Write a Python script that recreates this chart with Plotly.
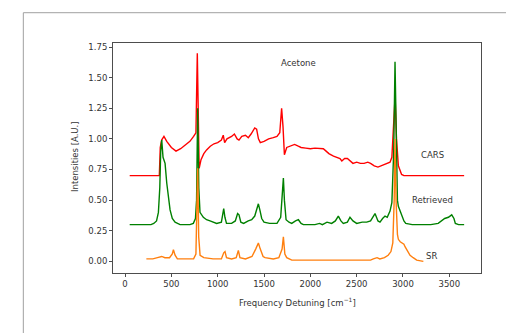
import plotly.graph_objects as go

# ---- data ----
cars_x = [50, 370, 380, 395, 420, 450, 500, 550, 600, 650, 700, 740, 765, 780, 790, 800, 820, 850, 880, 920,
          960, 1000, 1040, 1060, 1075, 1100, 1150, 1180, 1210, 1230, 1260, 1300, 1330, 1360, 1400, 1420, 1440,
          1460, 1500, 1550, 1600, 1640, 1670, 1690, 1705, 1720, 1745, 1780, 1830, 1870, 1900, 1950, 2000, 2050,
          2100, 2140, 2170, 2200, 2250, 2290, 2320, 2340, 2370, 2400, 2430, 2460, 2500, 2540, 2580, 2620, 2650,
          2690, 2730, 2760, 2790, 2830, 2860, 2880, 2900, 2915, 2930, 2950, 2985, 3010, 3660]
cars_y = [0.70, 0.70, 0.93, 0.99, 1.02, 0.98, 0.93, 0.90, 0.92, 0.95, 0.98, 1.02, 1.05, 1.70, 1.20, 0.76, 0.83,
          0.88, 0.91, 0.94, 0.96, 0.97, 0.99, 1.03, 0.97, 1.00, 1.02, 1.04, 1.00, 0.99, 1.02, 1.03, 1.01, 1.04,
          1.09, 1.08, 1.00, 0.97, 0.98, 1.00, 1.01, 1.02, 1.05, 1.25, 1.10, 0.87, 0.93, 0.94, 0.955, 0.94, 0.93,
          0.925, 0.92, 0.925, 0.92, 0.92, 0.90, 0.88, 0.86, 0.85, 0.84, 0.82, 0.84, 0.84, 0.82, 0.80, 0.81, 0.80,
          0.80, 0.81, 0.80, 0.78, 0.77, 0.78, 0.79, 0.80, 0.81, 0.85, 1.10, 1.35, 1.00, 0.78, 0.71, 0.70, 0.70]

ret_x = [50, 280, 310, 340, 360, 375, 385, 396, 410, 432, 450, 470, 486, 510, 540, 594, 650, 700, 737, 760, 772,
         784, 796, 809, 845, 880, 917, 989, 1040, 1055, 1065, 1078, 1095, 1150, 1190, 1215, 1230, 1250, 1280, 1330,
         1367, 1400, 1425, 1439, 1455, 1475, 1500, 1560, 1600, 1640, 1680, 1700, 1709, 1720, 1738, 1770, 1799,
         1840, 1871, 1900, 1925, 2000, 2050, 2100, 2130, 2180, 2230, 2270, 2302, 2330, 2356, 2400, 2428, 2460,
         2500, 2560, 2608, 2650, 2698, 2730, 2752, 2780, 2806, 2830, 2860, 2880, 2900, 2914, 2925, 2940, 2950,
         2970, 2986, 3010, 3030, 3100, 3200, 3300, 3380, 3420, 3450, 3490, 3526, 3550, 3565, 3600, 3660]
ret_y = [0.30, 0.30, 0.31, 0.33, 0.40, 0.60, 0.90, 0.99, 0.85, 0.80, 0.64, 0.50, 0.42, 0.35, 0.32, 0.30, 0.30,
         0.30, 0.31, 0.35, 0.50, 1.25, 0.60, 0.40, 0.36, 0.34, 0.33, 0.31, 0.32, 0.38, 0.43, 0.36, 0.31, 0.31,
         0.33, 0.39, 0.38, 0.32, 0.31, 0.33, 0.34, 0.37, 0.44, 0.47, 0.42, 0.35, 0.32, 0.31, 0.31, 0.31, 0.36,
         0.60, 0.68, 0.50, 0.34, 0.32, 0.31, 0.33, 0.34, 0.31, 0.30, 0.30, 0.30, 0.31, 0.30, 0.32, 0.31, 0.33,
         0.37, 0.33, 0.31, 0.32, 0.36, 0.33, 0.31, 0.32, 0.32, 0.33, 0.39, 0.33, 0.32, 0.35, 0.37, 0.36, 0.41,
         0.48, 0.90, 1.63, 1.00, 0.50, 0.45, 0.41, 0.37, 0.33, 0.31, 0.30, 0.30, 0.30, 0.31, 0.33, 0.35, 0.36,
         0.38, 0.35, 0.31, 0.30, 0.30]

sr_x = [230, 300, 350, 396, 430, 480, 510, 522, 540, 565, 650, 740, 765, 784, 795, 810, 850, 950, 1040, 1065,
        1079, 1095, 1150, 1200, 1223, 1240, 1300, 1370, 1410, 1439, 1460, 1490, 1511, 1600, 1660, 1695, 1709,
        1725, 1745, 1800, 2000, 2200, 2400, 2650, 2680, 2720, 2750, 2800, 2840, 2870, 2890, 2905, 2914, 2925,
        2940, 2950, 2970, 2986, 3010, 3022, 3050, 3076, 3110, 3148, 3220]
sr_y = [0.02, 0.02, 0.03, 0.04, 0.03, 0.03, 0.06, 0.095, 0.05, 0.02, 0.02, 0.02, 0.06, 0.76, 0.20, 0.05, 0.03,
        0.02, 0.02, 0.07, 0.08, 0.03, 0.02, 0.03, 0.09, 0.03, 0.02, 0.04, 0.10, 0.15, 0.10, 0.04, 0.03, 0.02,
        0.03, 0.10, 0.20, 0.06, 0.03, 0.01, 0.01, 0.01, 0.01, 0.01, 0.02, 0.03, 0.02, 0.03, 0.05, 0.08, 0.15,
        0.50, 1.00, 0.50, 0.22, 0.18, 0.16, 0.15, 0.14, 0.12, 0.08, 0.05, 0.03, 0.01, 0.00]

x_ticks = [0, 500, 1000, 1500, 2000, 2500, 3000, 3500]
y_ticks = [0.00, 0.25, 0.50, 0.75, 1.00, 1.25, 1.50, 1.75]

labels = ["Acetone", "CARS", "Retrieved", "SR"]
label_x = [1870, 3320, 3320, 3310]
label_y = [1.62, 0.87, 0.50, 0.04]

FONT = "DejaVu Sans"
TXT = "#333333"
AX = "#4d4d4d"
LW = 1.4

fig = go.Figure()
fig.add_trace(go.Scatter(x=cars_x, y=cars_y, mode="lines", line=dict(color="#ff0000", width=LW)))
fig.add_trace(go.Scatter(x=ret_x, y=ret_y, mode="lines", line=dict(color="#008000", width=LW)))
fig.add_trace(go.Scatter(x=sr_x, y=sr_y, mode="lines", line=dict(color="#ff7f0e", width=LW)))

for t, xx, yy in zip(labels, label_x, label_y):
    fig.add_annotation(x=xx, y=yy, text=t, showarrow=False, xanchor="center", yanchor="middle",
                       font=dict(family=FONT, size=8.5, color=TXT))

# axis titles
fig.add_annotation(x=(297 - 113) / 368, y=(273 - 301.5) / 230, xref="paper", yref="paper",
                   text="Frequency Detuning [cm<sup>−1</sup>]", showarrow=False,
                   xanchor="center", yanchor="middle", font=dict(family=FONT, size=8.5, color=TXT))
fig.add_annotation(x=(75 - 113) / 368, y=(273 - 157) / 230, xref="paper", yref="paper",
                   text="Intensities [A.U.]", showarrow=False, textangle=-90,
                   xanchor="center", yanchor="middle", font=dict(family=FONT, size=8.5, color=TXT))

# figure frame
fig.add_shape(type="path", xref="paper", yref="paper",
              path="M -0.2437,-0.3 L -0.2437,1.1317 L 1.068,1.1317",
              line=dict(color="#a0a0a0", width=1))

fig.update_layout(
    width=507, height=333,
    margin=dict(l=113, r=26, t=43, b=60),
    paper_bgcolor="white", plot_bgcolor="white",
    showlegend=False,
    font=dict(family=FONT, size=8.5, color=TXT),
)
fig.update_xaxes(range=[-130, 3842], tickvals=x_ticks, ticktext=[str(v) for v in x_ticks],
                 showgrid=False, zeroline=False, showline=True, linecolor=AX, linewidth=1,
                 mirror=True, ticks="outside", ticklen=3, tickwidth=0.8, tickcolor=AX,
                 tickfont=dict(family=FONT, size=8.5, color=TXT))
fig.update_yaxes(range=[-0.095, 1.783], tickvals=y_ticks, ticktext=[f"{v:.2f}" for v in y_ticks],
                 showgrid=False, zeroline=False, showline=True, linecolor=AX, linewidth=1,
                 mirror=True, ticks="outside", ticklen=3, tickwidth=0.8, tickcolor=AX,
                 tickfont=dict(family=FONT, size=8.5, color=TXT))

fig.write_html("out.html", config={"displayModeBar": False},
               post_script="document.body.style.margin='0';document.body.style.overflow='hidden';"
                           "document.documentElement.style.overflow='hidden';")
